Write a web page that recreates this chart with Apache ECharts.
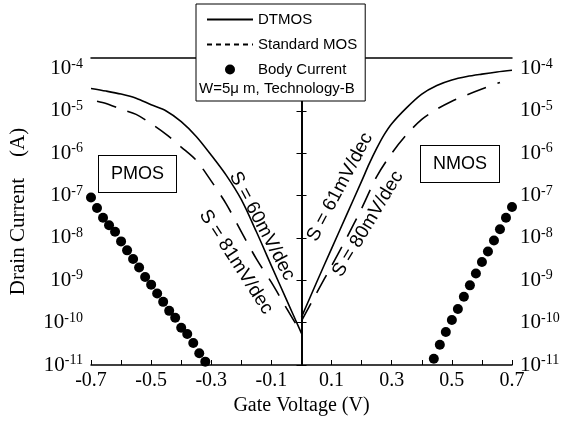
<!DOCTYPE html>
<html><head><meta charset="utf-8">
<script src="https://cdn.jsdelivr.net/npm/echarts@6/dist/echarts.min.js"></script>
<style>html,body{margin:0;padding:0;background:#fff}#c{width:576px;height:425px}</style>
</head><body><div id="c"></div>
<script>
// ---- data ----
const pDtX = [-0.70,-0.65,-0.60,-0.55,-0.50,-0.45,-0.40,-0.35,-0.30,-0.25,-0.20,-0.15,-0.10,-0.05,0.00];
const pDtY = [3.4e-5,2.95e-5,2.5e-5,2.0e-5,1.4e-5,1.0e-5,5.6e-6,2.5e-6,9.0e-7,3.0e-7,8.0e-8,1.4e-8,2.2e-9,3.5e-10,5.6e-11];
const pStX = [-0.68,-0.65,-0.60,-0.55,-0.50,-0.45,-0.40,-0.35,-0.30,-0.25,-0.20,-0.15,-0.10,-0.05,0.00];
const pStY = [1.7e-5,1.5e-5,1.1e-5,8.3e-6,5.0e-6,2.8e-6,1.4e-6,6.8e-7,2.2e-7,6.3e-8,1.4e-8,3.2e-9,8.9e-10,2.2e-10,5.6e-11];
const nDtX = [0.00,0.05,0.10,0.15,0.20,0.225,0.25,0.275,0.30,0.35,0.40,0.45,0.50,0.55,0.60,0.65,0.70];
const nDtY = [1.35e-10,8.9e-10,5.6e-9,3.5e-8,2.2e-7,5.6e-7,1.3e-6,2.75e-6,5.0e-6,1.2e-5,2.5e-5,4.0e-5,5.4e-5,6.5e-5,7.4e-5,8.3e-5,9.1e-5];
const nStX = [0.00,0.05,0.10,0.15,0.20,0.25,0.30,0.35,0.40,0.45,0.50,0.55,0.60,0.66];
const nStY = [1.1e-10,5.0e-10,2.2e-9,1.0e-8,5.0e-8,2.8e-7,1.0e-6,2.8e-6,6.3e-6,1.1e-5,1.7e-5,2.4e-5,3.3e-5,4.7e-5];
const pBodyX = [-0.70,-0.68,-0.66,-0.64,-0.62,-0.60,-0.58,-0.56,-0.54,-0.52,-0.50,-0.48,-0.46,-0.44,-0.42,-0.40,-0.38,-0.36,-0.34,-0.32];
const pBodyY = [9.0e-8,5.1e-8,3.0e-8,2.0e-8,1.4e-8,8.3e-9,5.1e-9,3.2e-9,2.0e-9,1.2e-9,7.9e-10,4.9e-10,3.1e-10,1.9e-10,1.3e-10,7.6e-11,5.4e-11,3.3e-11,1.9e-11,1.2e-11];
const nBodyX = [0.44,0.46,0.48,0.50,0.52,0.54,0.56,0.58,0.60,0.62,0.64,0.66,0.68,0.70];
const nBodyY = [1.4e-11,3.0e-11,6.0e-11,1.15e-10,2.1e-10,4.1e-10,7.6e-10,1.45e-9,2.7e-9,4.8e-9,8.7e-9,1.6e-8,3.0e-8,5.4e-8];
const legendNames = ['DTMOS','Standard MOS','Body Current'];
const noteText = 'W=5\u03bc m, Technology-B';
const yMin = 1e-11, yMax = Math.pow(10, -3.75);

const zip = (xs, ys) => xs.map((x, i) => [x, ys[i]]);
const serif = 'Liberation Serif';
const sans = 'Liberation Sans';
const logLabel = {
  color: '#000', margin: 8,
  formatter: v => {
    const e = Math.log10(v);
    if (Math.abs(e - Math.round(e)) > 0.01) return '';
    return '{b|10}{s|' + Math.round(e) + '}';
  },
  rich: {
    b: { fontFamily: serif, fontSize: 21, color: '#000' },
    s: { fontFamily: serif, fontSize: 14, color: '#000', verticalAlign: 'top', padding: [0, 0, 9, 0] }
  }
};
const solid = { color: '#000', width: 1.6, type: 'solid' };
const dashed = { color: '#000', width: 1.6, type: [20, 12] };

const chart = echarts.init(document.getElementById('c'), null, { renderer: 'canvas' });
chart.setOption({
  animation: false,
  backgroundColor: '#fff',
  grid: { left: 88, right: 64, top: 58, bottom: 60, containLabel: false },
  xAxis: [{
    type: 'value', min: -0.7, max: 0.7, interval: 0.1,
    name: 'Gate Voltage (V)', nameLocation: 'middle', nameGap: 31,
    nameTextStyle: { fontFamily: serif, fontSize: 20, color: '#000' },
    axisLine: { lineStyle: { color: '#000', width: 1.5 } },
    axisTick: { inside: true, length: 5, lineStyle: { color: '#000' } },
    axisLabel: { fontFamily: serif, fontSize: 20, color: '#000', margin: 6,
      formatter: v => { const k = Math.round(v * 10); return Math.abs(k) % 2 === 1 ? (k / 10).toFixed(1) : ''; } },
    splitLine: { show: false }
  }, {
    type: 'value', position: 'top', min: -0.7, max: 0.7,
    axisLine: { lineStyle: { color: '#000', width: 1.5 } },
    axisTick: { show: false }, axisLabel: { show: false }, splitLine: { show: false }
  }],
  yAxis: [{
    type: 'log', logBase: 10, min: yMin, max: yMax, splitNumber: 7,
    name: 'Drain Current    (A)', nameLocation: 'middle', nameGap: 62, nameRotate: 90,
    nameTextStyle: { fontFamily: serif, fontSize: 21, color: '#000' },
    axisLine: { show: true, lineStyle: { color: '#000', width: 1.5 } },
    axisTick: { inside: true, length: 5, lineStyle: { color: '#000' } },
    axisLabel: logLabel, splitLine: { show: false }, minorTick: { show: false }
  }, {
    type: 'log', logBase: 10, min: yMin, max: yMax, splitNumber: 7, position: 'right',
    axisLine: { show: true, lineStyle: { color: '#000', width: 1.5 } },
    axisTick: { inside: true, length: 5, lineStyle: { color: '#000' } },
    axisLabel: logLabel, splitLine: { show: false }, minorTick: { show: false }
  }],
  legend: {
    orient: 'vertical', left: 196, top: 4, z: 20,
    backgroundColor: '#fff', borderColor: '#000', borderWidth: 1, borderRadius: 0,
    padding: [8, 8, 24, 10], itemGap: 10, itemWidth: 46, itemHeight: 10,
    textStyle: { fontFamily: sans, fontSize: 15, color: '#000' },
    data: [
      { name: legendNames[0], itemStyle: { opacity: 0 } },
      { name: legendNames[1], itemStyle: { opacity: 0 }, lineStyle: { type: [5, 4] } },
      { name: legendNames[2], icon: 'circle' }
    ]
  },
  series: [
    { name: legendNames[0], type: 'line', data: zip(pDtX, pDtY), smooth: 0.3, symbol: 'none', lineStyle: solid, itemStyle: { color: '#000' },
      markLine: { silent: true, symbol: ['none', 'none'], label: { show: false }, lineStyle: { color: '#000', width: 1.5, type: 'solid' }, data: [{ xAxis: 0 }] } },
    { name: legendNames[0], type: 'line', data: zip(nDtX, nDtY), smooth: 0.3, symbol: 'none', lineStyle: solid, itemStyle: { color: '#000' } },
    { name: legendNames[1], type: 'line', data: zip(pStX, pStY), smooth: 0.3, symbol: 'none', lineStyle: dashed, itemStyle: { color: '#000' } },
    { name: legendNames[1], type: 'line', data: zip(nStX, nStY), smooth: 0.3, symbol: 'none', lineStyle: dashed, itemStyle: { color: '#000' } },
    { name: legendNames[2], type: 'scatter', data: zip(pBodyX, pBodyY), symbol: 'circle', symbolSize: 10, itemStyle: { color: '#000', opacity: 1 } },
    { name: legendNames[2], type: 'scatter', data: zip(nBodyX, nBodyY), symbol: 'circle', symbolSize: 10, itemStyle: { color: '#000', opacity: 1 } }
  ],
  graphic: [
    { type: 'text', left: 199, top: 81, z: 30, style: { text: noteText, font: '15px "Liberation Sans"', fill: '#000' } },
    { type: 'text', left: 98, top: 155, z: 10, style: { text: 'PMOS', font: '18px "Liberation Sans"', fill: '#000', backgroundColor: '#fff', borderColor: '#000', borderWidth: 1, padding: [9, 12, 9, 12] } },
    { type: 'text', left: 420, top: 145, z: 10, style: { text: 'NMOS', font: '18px "Liberation Sans"', fill: '#000', backgroundColor: '#fff', borderColor: '#000', borderWidth: 1, padding: [9, 12, 9, 12] } },
    { type: 'text', x: 262, y: 226, rotation: -62 * Math.PI / 180, z: 10, style: { text: 'S = 60mV/dec', font: '19px "Liberation Sans"', fill: '#000', align: 'center', verticalAlign: 'middle' } },
    { type: 'text', x: 236, y: 262, rotation: -57 * Math.PI / 180, z: 10, style: { text: 'S = 81mV/dec', font: '19px "Liberation Sans"', fill: '#000', align: 'center', verticalAlign: 'middle' } },
    { type: 'text', x: 340, y: 187, rotation: 62 * Math.PI / 180, z: 10, style: { text: 'S = 61mV/dec', font: '19px "Liberation Sans"', fill: '#000', align: 'center', verticalAlign: 'middle' } },
    { type: 'text', x: 368, y: 224, rotation: 59 * Math.PI / 180, z: 10, style: { text: 'S = 80mV/dec', font: '19px "Liberation Sans"', fill: '#000', align: 'center', verticalAlign: 'middle' } }
  ]
});
</script></body></html>
